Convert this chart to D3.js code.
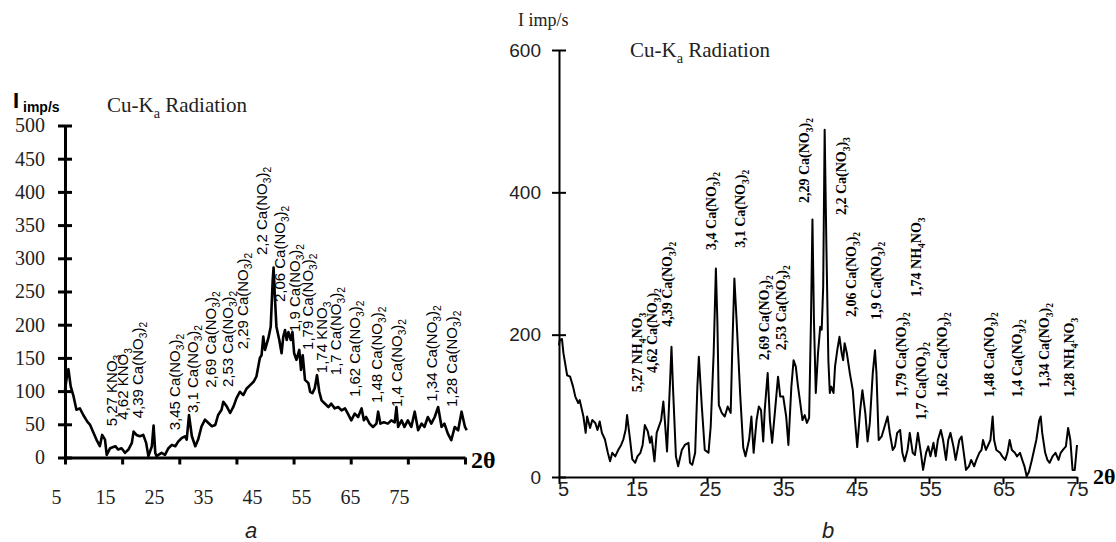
<!DOCTYPE html>
<html>
<head>
<meta charset="utf-8">
<script src="https://cdn.jsdelivr.net/npm/d3@7"></script>
<style>
  body { margin: 0; background: #fff; }
  svg { display: block; }
</style>
</head>
<body>
<div id="chart"></div>
<script>
// ---- data: panel a ----
const thetaA = [5.0,5.3,5.6,6.0,6.5,7.0,7.6,8.2,8.9,9.4,10.0,10.5,11.1,11.5,12.0,12.3,12.9,13.8,14.3,14.9,15.5,16.1,16.7,17.0,17.5,18.1,18.7,19.2,19.6,20.2,20.5,20.8,21.0,21.9,22.5,23.1,23.7,24.3,24.8,25.4,26.0,26.3,26.7,27.2,27.8,28.3,28.9,29.5,30.1,30.7,31.3,31.8,32.4,32.7,33.3,33.9,34.5,35.0,35.6,36.2,36.8,37.4,38.0,38.5,39.1,39.4,39.7,40.0,40.6,41.0,41.35,41.5,41.7,42.0,42.5,42.9,43.2,43.5,43.8,44.1,44.5,44.8,45.1,45.5,46.0,46.3,46.6,47.0,47.6,47.9,48.3,48.7,49.1,49.5,49.9,50.5,51.1,51.6,52.2,52.8,53.4,54.0,54.5,55.1,55.7,56.3,56.9,57.3,57.7,58.3,58.9,59.5,59.8,60.2,60.8,61.5,62.1,62.7,63.0,63.3,63.9,64.4,65.0,65.6,66.2,66.8,67.4,67.9,68.5,69.1,69.7,70.3,70.9,71.4,72.0,72.6,73.2,73.8,74.4,75.0,75.3];
const intensityA = [102,120,133,107,92,72,74,64,54,49,37,27,17,34,27,4,14,17,12,14,7,12,22,39,34,32,34,22,2,17,48,7,2,7,4,14,19,17,24,29,32,27,64,32,17,27,47,57,52,47,49,64,72,84,77,67,77,89,99,94,104,109,114,122,150,154,182,162,180,197,267,286,247,197,177,157,182,192,177,189,177,189,157,147,162,132,154,117,112,99,97,104,124,99,86,81,76,81,74,76,71,74,66,56,66,61,74,56,61,51,46,51,69,51,53,51,56,53,76,46,56,46,56,46,69,41,51,46,61,51,61,76,46,51,36,26,46,41,69,46,41];

const labelsA = ["5,27 KNO_3","4,62 KNO_3","4,39 Ca(NO_3)_2","3,45 Ca(NO_3)_2","3,1 Ca(NO_3)_2","2,69 Ca(NO_3)_2","2,53 Ca(NO_3)_2","2,29 Ca(NO_3)_2","2,2 Ca(NO_3)_2","2,06 Ca(NO_3)_2","1,9 Ca(NO_3)_2","1,79 Ca(NO_3)_2","1,74 KNO_3","1,7 Ca(NO_3)_2","1,62 Ca(NO_3)_2","1,48 Ca(NO_3)_2","1,4 Ca(NO_3)_2","1,34 Ca(NO_3)_2","1,28 Ca(NO_3)_2"];
const labelThetaA = [14.1,16.0,18.65,25.1,28.3,31.4,34.4,37.0,40.35,43.5,46.1,48.4,50.85,53.3,56.6,60.5,64.0,70.1,73.6];
const labelLevelA = [47,57,59,41,67,105,106,163,305,234,189,162,127,124,91,82,76,84,76];

// ---- data: panel b ----
const thetaB = [5.0,5.1,5.4,5.6,6.1,6.5,6.9,7.2,7.6,7.8,8.3,8.6,8.8,9.2,9.5,9.9,10.2,10.5,10.8,11.2,11.6,11.9,12.2,12.6,13.0,13.4,13.7,14.0,14.2,14.6,14.9,15.3,15.6,16.0,16.3,16.6,17.0,17.3,17.5,17.9,18.2,18.8,19.1,19.3,19.6,20.0,20.2,20.4,20.8,21.1,21.6,22.0,22.5,22.7,23.0,23.4,23.7,23.9,24.3,24.7,25.2,25.5,25.9,26.2,26.4,26.6,27.0,27.4,27.8,28.2,28.4,28.7,29.0,29.5,29.9,30.2,30.7,31.0,31.3,31.7,32.0,32.3,32.6,32.8,33.2,33.5,33.8,34.2,34.6,34.9,35.3,35.7,36.0,36.4,36.7,37.0,37.3,37.6,37.9,38.2,38.5,38.8,39.05,39.25,39.45,39.7,40.0,40.3,40.5,40.7,40.9,41.15,41.4,41.6,41.8,42.1,42.3,42.6,42.9,43.2,43.4,43.6,43.9,44.3,44.7,45.0,45.3,45.7,46.0,46.4,46.7,47.0,47.4,47.7,47.9,48.2,48.6,49.0,49.4,49.7,50.1,50.4,50.7,51.1,51.4,51.7,52.1,52.4,52.8,53.1,53.5,53.9,54.2,54.6,54.9,55.2,55.6,55.9,56.2,56.6,56.9,57.3,57.6,57.9,58.3,58.6,59.1,59.4,59.7,60.0,60.4,60.7,61.1,61.4,61.8,62.1,62.3,62.7,63.0,63.3,63.6,63.8,64.1,64.6,64.9,65.3,65.6,65.9,66.2,66.6,66.9,67.3,67.6,67.9,68.2,68.5,68.9,69.2,69.5,69.9,70.1,70.3,70.7,71.0,71.3,71.7,72.1,72.5,72.8,73.1,73.5,73.8,74.1,74.4,74.7,75.0];
const intensityB = [185,192,194,174,143,141,127,113,104,108,85,62,85,69,80,76,66,78,62,53,34,22,34,29,38,45,53,66,87,53,25,20,29,34,45,73,64,48,57,22,62,80,106,80,36,132,183,127,29,15,38,45,48,20,17,34,127,169,99,38,34,71,174,293,220,101,90,85,99,90,174,279,220,113,41,29,53,85,34,80,99,94,50,94,146,80,48,94,141,113,113,85,45,127,164,155,127,104,80,87,76,83,220,362,221,118,174,211,207,267,488,314,164,118,127,118,155,178,197,174,164,188,174,146,122,80,42,94,122,89,50,76,146,178,146,52,57,71,85,62,38,43,62,66,34,22,38,62,34,31,62,34,10,34,43,29,48,29,52,66,52,24,52,62,43,24,52,57,34,10,15,24,15,24,34,38,52,38,45,52,85,52,38,34,29,24,34,52,38,34,29,34,24,15,1,7,24,38,52,80,85,62,34,24,20,29,34,24,34,38,43,69,52,10,10,45];

const labelsB = ["5,27 NH_4NO_3","4,62 Ca(NO_3)_2","4,39 Ca(NO_3)_2","3,4 Ca(NO_3)_2","3,1 Ca(NO_3)_2","2,69 Ca(NO_3)_2","2,53 Ca(NO_3)_2","2,29 Ca(NO_3)_2","2,2 Ca(NO_3)_3","2,06 Ca(NO_3)_2","1,9 Ca(NO_3)_2","1,79 Ca(NO_3)_2","1,74 NH_4NO_3","1,7 Ca(NO_3)_2","1,62 Ca(NO_3)_2","1,48 Ca(NO_3)_2","1,4 Ca(NO_3)_2","1,34 Ca(NO_3)_2","1,28 NH_4NO_3"];
const labelThetaB = [16.2,18.25,20.3,26.2,30.1,33.4,35.7,38.8,43.8,45.1,48.5,51.9,53.9,54.6,57.4,63.8,67.6,71.2,74.6];
const labelLevelB = [119,146,211,319,322,164,178,385,368,225,221,112,253,80,112,112,112,125,112];

// ---- tick labels ----
const xTicks = [5, 15, 25, 35, 45, 55, 65, 75];
const yTicksA = [0, 50, 100, 150, 200, 250, 300, 350, 400, 450, 500];
const yTicksB = [0, 200, 400, 600];

const SERIF = "'Liberation Serif', 'Times New Roman', serif";
const SANS = "'Liberation Sans', Arial, sans-serif";

const svg = d3.select("#chart").append("svg")
  .attr("width", 1116)
  .attr("height", 542);

// text with "_x" subscripts
function formula(sel, str, size) {
  const parts = str.split(/_(.)/);
  const shift = size * 0.28;
  let down = false;
  parts.forEach((p, i) => {
    if (!p) return;
    const t = sel.append("tspan").text(p);
    if (i % 2 === 1) {
      t.attr("font-size", size * 0.68).attr("dy", down ? 0 : shift);
      down = true;
    } else if (down) {
      t.attr("dy", -shift);
      down = false;
    }
  });
  return sel;
}

function drawPanel(c) {
  const g = svg.append("g");
  const x = d3.scaleLinear().domain([5, 75]).range(c.xRange);
  const y = d3.scaleLinear().domain(c.yDomain).range(c.yRange);
  const y0 = c.yRange[0];

  // x axis: ticks only
  const xAxis = g.append("g")
    .attr("transform", `translate(0,${y0})`)
    .call(d3.axisBottom(x).tickValues(xTicks).tickFormat("").tickSize(c.tick).tickSizeOuter(0));
  xAxis.selectAll("path, line").attr("stroke", "#000").attr("stroke-width", c.axisW);

  // x tick labels (own scale, they do not sit on the ticks in panel a)
  const xl = d3.scaleLinear().domain([5, 75]).range(c.xLabelRange);
  const xLab = g.append("g")
    .attr("transform", `translate(0,${y0})`)
    .call(d3.axisBottom(xl).tickValues(xTicks).tickSize(0).tickPadding(c.xPad));
  xLab.select(".domain").remove();
  xLab.selectAll("text").attr("font-family", c.tickFont).attr("font-size", c.tickSize).attr("fill", "#222");

  // y axis
  const yAxis = g.append("g")
    .attr("transform", `translate(${c.xRange[0]},0)`)
    .call(d3.axisLeft(y).tickValues(c.yTicks).tickSize(c.tick).tickSizeOuter(0).tickPadding(c.yPad));
  yAxis.selectAll("path, line").attr("stroke", "#000").attr("stroke-width", c.axisW);
  yAxis.selectAll(".tick line").attr("x1", c.tick);
  yAxis.selectAll("text").attr("font-family", c.yFont).attr("font-size", c.yFontSize).attr("fill", "#222");

  // curve
  const line = d3.line().x(d => x(d[0])).y(d => y(d[1]));
  g.append("path")
    .datum(d3.zip(c.theta, c.intensity))
    .attr("d", line)
    .attr("fill", "none")
    .attr("stroke", "#000")
    .attr("stroke-width", c.lineW)
    .attr("stroke-linejoin", "round");

  // peak labels
  c.labels.forEach((s, i) => {
    const t = g.append("text")
      .attr("transform", `translate(${x(c.labelTheta[i])},${y(c.labelLevel[i])}) rotate(-90)`)
      .attr("font-family", c.labelFont)
      .attr("font-size", c.labelSize)
      .attr("font-weight", c.labelWeight)
      .attr("fill", "#000");
    formula(t, s, c.labelSize);
  });

  // 2θ
  g.append("text")
    .attr("x", c.thetaPos[0]).attr("y", c.thetaPos[1])
    .attr("font-family", SERIF).attr("font-size", c.thetaSize).attr("font-weight", "bold")
    .text("2θ");

  // title
  const tt = g.append("text")
    .attr("x", c.titlePos[0]).attr("y", c.titlePos[1])
    .attr("font-family", SERIF).attr("font-size", 21).attr("fill", "#222");
  formula(tt, "Cu-K_a Radiation", 21);

  // panel letter
  g.append("text")
    .attr("x", c.letterX).attr("y", 538)
    .attr("text-anchor", "middle")
    .attr("font-family", SANS).attr("font-size", 22).attr("font-style", "italic")
    .attr("fill", "#222")
    .text(c.letter);
}

drawPanel({
  theta: thetaA, intensity: intensityA,
  labels: labelsA, labelTheta: labelThetaA, labelLevel: labelLevelA,
  xRange: [65, 465], yDomain: [0, 500], yRange: [457.5, 125.5], yTicks: yTicksA,
  xLabelRange: [56, 399], xPad: 32, tick: 7, axisW: 3, lineW: 2.6,
  tickFont: SERIF, tickSize: 20, yFont: SERIF, yFontSize: 20, yPad: 13,
  labelFont: SANS, labelSize: 15, labelWeight: "normal",
  thetaPos: [471, 468], thetaSize: 24, titlePos: [107, 112], letter: "a", letterX: 251
});

drawPanel({
  theta: thetaB, intensity: intensityB,
  labels: labelsB, labelTheta: labelThetaB, labelLevel: labelLevelB,
  xRange: [559, 1077], yDomain: [0, 600], yRange: [477, 50], yTicks: yTicksB,
  xLabelRange: [563, 1077], xPad: 5, tick: 7, axisW: 2, lineW: 2,
  tickFont: SANS, tickSize: 20, yFont: SANS, yFontSize: 19, yPad: 11,
  labelFont: SERIF, labelSize: 14, labelWeight: "bold",
  thetaPos: [1093, 484], thetaSize: 22, titlePos: [630, 57], letter: "b", letterX: 828
});

// y axis captions
svg.append("text").attr("x", 13).attr("y", 108)
  .attr("font-family", SANS).attr("font-size", 22).attr("font-weight", "bold").text("I");
svg.append("text").attr("x", 23).attr("y", 112)
  .attr("font-family", SANS).attr("font-size", 14).attr("font-weight", "bold").text("imp/s");
svg.append("text").attr("x", 518).attr("y", 26)
  .attr("font-family", SERIF).attr("font-size", 18).attr("fill", "#222").text("I imp/s");
</script>
</body>
</html>
